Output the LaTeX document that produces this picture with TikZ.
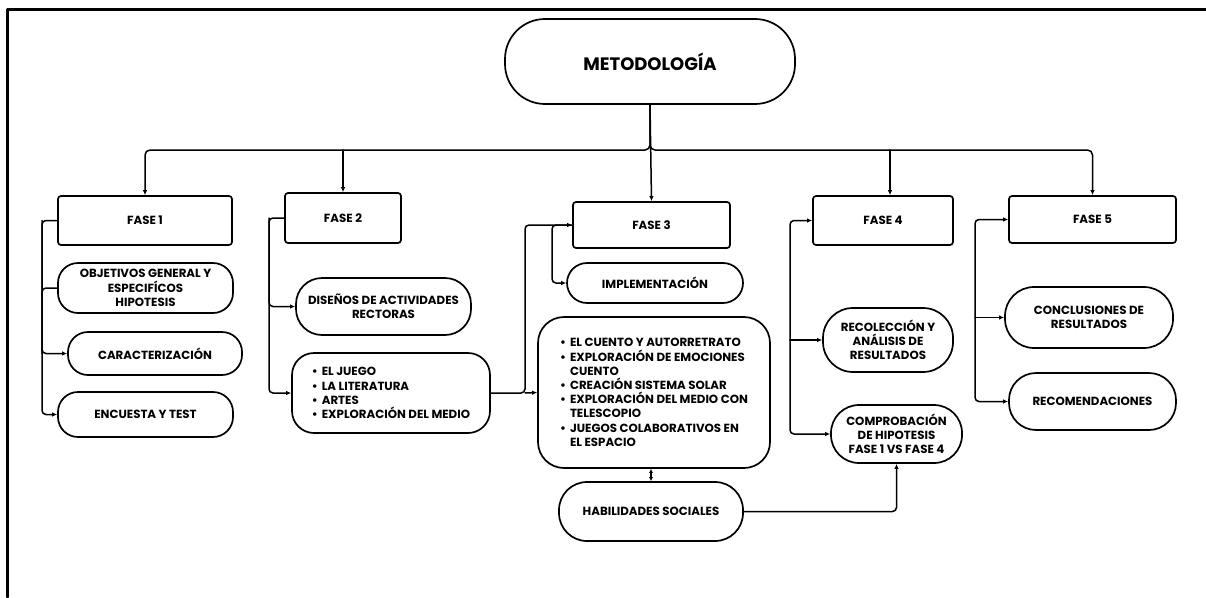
\documentclass[tikz,border=0pt]{standalone}
\usepackage{fontspec}
\setmainfont{Poppins}
\usetikzlibrary{arrows.meta, positioning, calc}
\newcommand{\bul}{\textbullet\hspace{4pt}}
\newcommand{\nobul}{\phantom{\textbullet}\hspace{4pt}}
\tikzset{every path/.style={line cap=round, line join=round}}

\begin{document}
\begin{tikzpicture}[
    x=1pt, y=-1pt,
    font=\bfseries\fontsize{11.8}{14.2}\selectfont,
    box/.style={
        draw=black,
        line width=1.7pt,
        rounded corners=3pt,
        align=center,
        inner sep=0pt
    },
    pill/.style={box, rounded corners=20pt},
    list/.style={box, rounded corners=22pt, align=left},
    flow/.style={-{Latex[length=5pt, width=4.5pt]}, line width=1.5pt},
    line/.style={line width=1.5pt}
]
\useasboundingbox (0,0) rectangle (1206,597);

% frame
\draw[line width=3pt] (7,597) -- (7,9) -- (1206,9);

\node[box, rounded corners=40pt, minimum width=290, minimum height=85,
      font=\bfseries\fontsize{18}{22}\selectfont] (meto) at (650,61.5) {METODOLOGÍA};

\node[box, minimum width=174, minimum height=49] (fase1) at (145,220.5) {FASE 1};
\node[box, minimum width=116, minimum height=50] (fase2) at (343,218) {FASE 2};
\node[box, minimum width=157, minimum height=46] (fase3) at (651.5,225) {FASE 3};
\node[box, minimum width=140, minimum height=49] (fase4) at (883,220.5) {FASE 4};
\node[box, minimum width=167, minimum height=47] (fase5) at (1092.5,219.5) {FASE 5};

% fase 1
\node[pill, minimum width=175, minimum height=50] (objetivos) at (145.5,288)
{OBJETIVOS GENERAL Y\\ESPECIFÍCOS\\HIPOTESIS};
\node[pill, minimum width=174, minimum height=43] (carac) at (155,353.5) {CARACTERIZACIÓN};
\node[pill, minimum width=175, minimum height=45] (encuesta) at (145.5,414.5) {ENCUESTA Y TEST};

% fase 2
\node[pill, minimum width=175, minimum height=57, rounded corners=26pt] (disenos) at (383.5,306.5)
{DISEÑOS DE ACTIVIDADES\\RECTORAS};
\node[list, minimum width=198, minimum height=80] (rectoras) at (391,393)
{\bul EL JUEGO\\\bul LA LITERATURA\\\bul ARTES\\\bul EXPLORACIÓN DEL MEDIO};

% fase 3
\node[pill, minimum width=176, minimum height=40] (implem) at (655,283) {IMPLEMENTACIÓN};
\node[list, minimum width=232, minimum height=151, rounded corners=26pt] (cuento) at (654,392.5)
{\bul EL CUENTO Y AUTORRETRATO\\\bul EXPLORACIÓN DE EMOCIONES\\\nobul CUENTO\\%
 \bul CREACIÓN SISTEMA SOLAR\\\bul EXPLORACIÓN DEL MEDIO CON\\\nobul TELESCOPIO\\%
 \bul JUEGOS COLABORATIVOS EN\\\nobul EL ESPACIO};
\node[pill, minimum width=184, minimum height=59, rounded corners=28pt] (habilidades) at (651,511.5)
{HABILIDADES SOCIALES};

% fase 4
\node[pill, minimum width=130, minimum height=64, rounded corners=30pt] (recoleccion) at (888,340)
{RECOLECCIÓN Y\\ANÁLISIS DE\\RESULTADOS};
\node[pill, minimum width=131, minimum height=58, rounded corners=28pt] (comprobacion) at (896.5,434)
{COMPROBACIÓN\\DE HIPOTESIS\\FASE 1 VS FASE 4};

% fase 5
\node[pill, minimum width=168, minimum height=61, rounded corners=29pt] (conclusiones) at (1089,317.5)
{CONCLUSIONES DE\\RESULTADOS};
\node[pill, minimum width=167, minimum height=57, rounded corners=27pt] (recomend) at (1092.5,401.5)
{RECOMENDACIONES};

% top bus
\coordinate (bus) at (650,150);
\coordinate (bus4) at (890,150);
\draw[flow] (meto.south) -- (fase3.north);
\draw[flow, rounded corners=5pt] (meto.south) |- (fase1.north |- bus) -- (fase1.north);
\draw[flow, rounded corners=5pt] (meto.south) |- (fase5.north |- bus) -- (fase5.north);
\draw[flow] (fase2.north |- bus) -- (fase2.north);
\draw[flow] (bus4) -- (bus4 |- fase4.north);

% fase 1 branches
\coordinate (rail1) at (42,220.5);
\draw[flow, rounded corners=4pt] (fase1.west) -- (rail1) |- (encuesta.west);
\draw[flow, rounded corners=4pt] (rail1) |- (carac.west);
\draw[line, rounded corners=4pt] (objetivos.west) -| (rail1 |- carac.west);

% fase 2 branches
\coordinate (rail2) at (269,218);
\draw[flow, rounded corners=4pt] (fase2.west) -- (rail2) |- (rectoras.west);
\draw[flow, rounded corners=4pt] (rail2) |- (disenos.west);

% fase 2 -> fase 3
\coordinate (rail3) at (525,393);
\draw[flow, rounded corners=4pt] (rectoras.east) -- (rail3) |- (fase3.west);
\draw[flow] (rail3) -- (cuento.west);
\coordinate (rail3b) at (552,225);
\draw[flow, rounded corners=4pt] (fase3.west) -- (rail3b) |- (implem.west);
\draw[{Latex[length=4pt, width=4pt]}-{Latex[length=4pt, width=4pt]}, line width=1.5pt]
    (habilidades.north |- cuento.south) -- (habilidades.north);
\draw[flow, rounded corners=4pt] (habilidades.east) -| (comprobacion.south);

% fase 4 branches
\coordinate (rail4) at (790,340);
\draw[flow, rounded corners=4pt] (rail4) |- (fase4.west);
\draw[flow] (rail4) -- (recoleccion.west);
\draw[flow, rounded corners=4pt] (rail4) |- (comprobacion.west);

% fase 5 branches
\coordinate (rail5) at (975,317.5);
\draw[flow, rounded corners=4pt] (rail5) |- (fase5.west);
\draw[flow] (rail5) -- (conclusiones.west);
\draw[flow, rounded corners=4pt] (rail5) |- (recomend.west);

\end{tikzpicture}
\end{document}
